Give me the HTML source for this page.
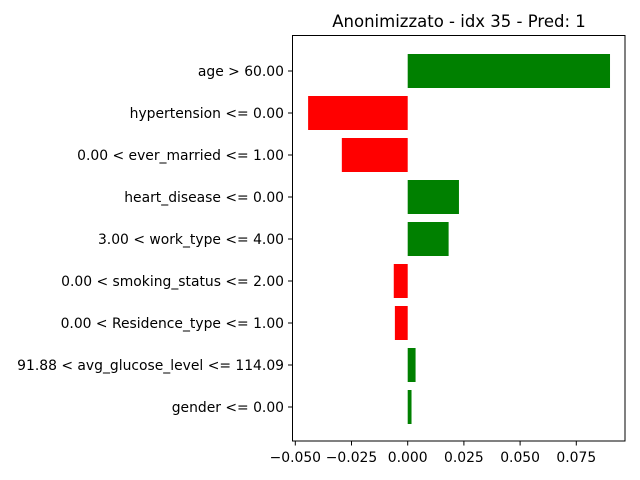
<!DOCTYPE html>
<html><head><meta charset="utf-8"><style>
body{margin:0;background:#fff;}
svg{display:block;font-family:"DejaVu Sans","Liberation Sans",sans-serif;}
</style></head><body>
<svg id="chart" width="640" height="480">
<text x="459" y="27" text-anchor="middle" font-size="16.5">Anonimizzato - idx 35 - Pred: 1</text>
<g id="bars"></g><g id="yt"></g><g id="xt"></g>
<rect x="292.5" y="35.5" width="332.5" height="405.5" fill="none" stroke="#000" stroke-width="1"/>
</svg>
<script>
const categories=["age > 60.00","hypertension <= 0.00","0.00 < ever_married <= 1.00","heart_disease <= 0.00","3.00 < work_type <= 4.00","0.00 < smoking_status <= 2.00","0.00 < Residence_type <= 1.00","91.88 < avg_glucose_level <= 114.09","gender <= 0.00"];
const weights=[0.0900,-0.0443,-0.0293,0.0228,0.0182,-0.0062,-0.0057,0.0035,0.0017];
const xTicks=[-0.05,-0.025,0,0.025,0.05,0.075];
const xTickLabels=["−0.050","−0.025","0.000","0.025","0.050","0.075"];
const NS="http://www.w3.org/2000/svg";
const x0=407.7,scale=2248;
function xs(v){return x0+v*scale;}
function ys(i){return 71+i*42;}
const bars=document.getElementById('bars'),yt=document.getElementById('yt'),xt=document.getElementById('xt');
categories.forEach((c,i)=>{
  const w=weights[i];
  const r=document.createElementNS(NS,'rect');
  r.setAttribute('x',Math.min(xs(0),xs(w)));
  r.setAttribute('y',ys(i)-17);
  r.setAttribute('width',Math.abs(xs(w)-xs(0)));
  r.setAttribute('height',34);
  r.setAttribute('fill',w>0?'#008000':'#ff0000');
  
  
  bars.appendChild(r);
  const l=document.createElementNS(NS,'line');
  l.setAttribute('x1',288);l.setAttribute('x2',292.5);
  l.setAttribute('y1',ys(i));l.setAttribute('y2',ys(i));
  l.setAttribute('stroke','#000');
  
  
  yt.appendChild(l);
  const t=document.createElementNS(NS,'text');
  t.setAttribute('x',284);t.setAttribute('y',ys(i)+5);
  t.setAttribute('text-anchor','end');t.setAttribute('font-size','13.9');
  t.textContent=c;
  
  
  yt.appendChild(t);
});
xTicks.forEach((v,i)=>{
  const l=document.createElementNS(NS,'line');
  l.setAttribute('x1',xs(v));l.setAttribute('x2',xs(v));
  l.setAttribute('y1',441);l.setAttribute('y2',445.5);
  l.setAttribute('stroke','#000');
  
  
  xt.appendChild(l);
  const t=document.createElementNS(NS,'text');
  t.setAttribute('x',xs(v));t.setAttribute('y',462);
  t.setAttribute('text-anchor','middle');t.setAttribute('font-size','13.9');
  t.textContent=xTickLabels[i];
  
  
  xt.appendChild(t);
});
</script>
</body></html>
